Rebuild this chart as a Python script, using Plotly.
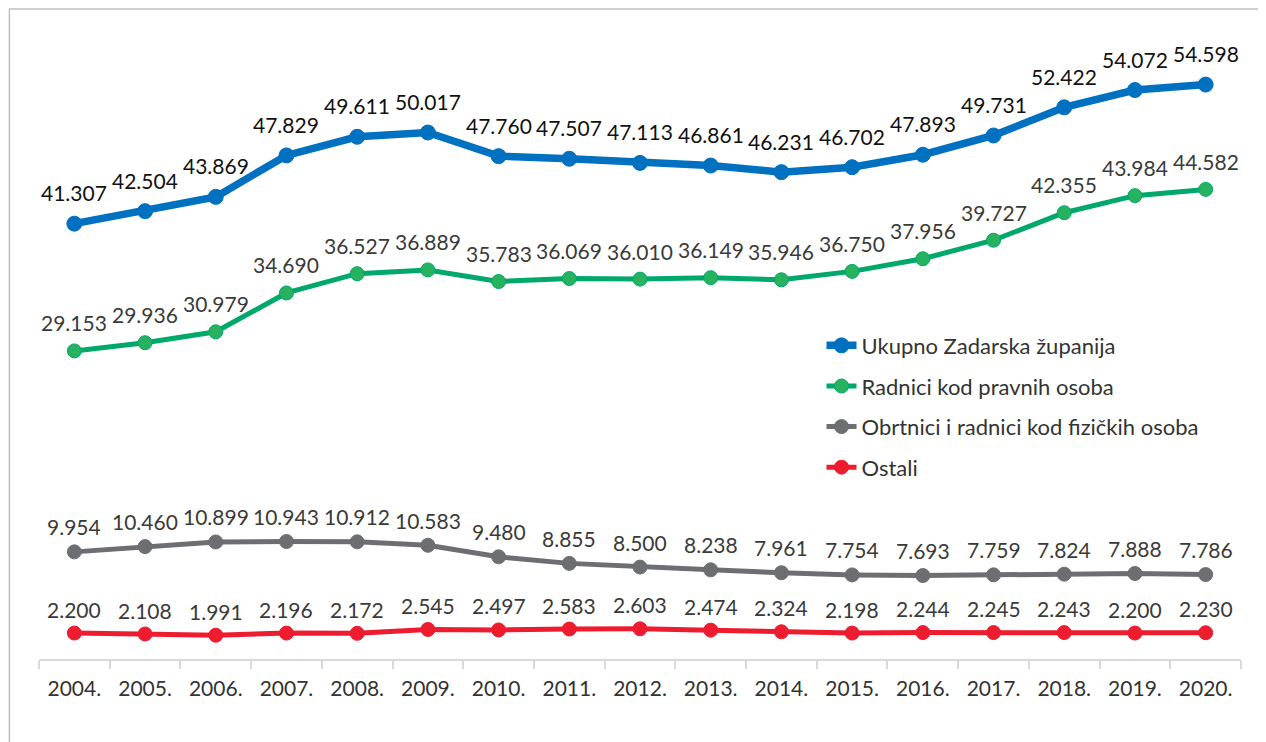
import plotly.graph_objects as go

years = ["2004.", "2005.", "2006.", "2007.", "2008.", "2009.", "2010.", "2011.", "2012.",
         "2013.", "2014.", "2015.", "2016.", "2017.", "2018.", "2019.", "2020."]
ukupno = [41.307, 42.504, 43.869, 47.829, 49.611, 50.017, 47.760, 47.507, 47.113,
          46.861, 46.231, 46.702, 47.893, 49.731, 52.422, 54.072, 54.598]
pravne = [29.153, 29.936, 30.979, 34.690, 36.527, 36.889, 35.783, 36.069, 36.010,
          36.149, 35.946, 36.750, 37.956, 39.727, 42.355, 43.984, 44.582]
fizicke = [9.954, 10.460, 10.899, 10.943, 10.912, 10.583, 9.480, 8.855, 8.500,
           8.238, 7.961, 7.754, 7.693, 7.759, 7.824, 7.888, 7.786]
ostali = [2.200, 2.108, 1.991, 2.196, 2.172, 2.545, 2.497, 2.583, 2.603,
          2.474, 2.324, 2.198, 2.244, 2.245, 2.243, 2.200, 2.230]

names = ["Ukupno Zadarska županija", "Radnici kod pravnih osoba",
         "Obrtnici i radnici kod fizičkih osoba", "Ostali"]

FONT = "Lato"

def fmt(v):
    return f"{v:.3f}"

series = [
    (ukupno, names[0], "#0070C0", "#0070C0", 7.5, 15, "#111111", 21, 31),
    (pravne, names[1], "#00A86B", "#27B25F", 5, 14, "#3a3a3a", 21, 28),
    (fizicke, names[2], "#6D6E71", "#6D6E71", 5, 14, "#3a3a3a", 21, 25),
    (ostali, names[3], "#ED1C2E", "#ED1C2E", 5, 14, "#3a3a3a", 21, 24),
]

fig = go.Figure()
annotations = []
for i, (vals, name, lc, mc, lw, ms, tc, fs, ys) in enumerate(series):
    fig.add_trace(go.Scatter(
        x=years, y=vals, name=name, mode="lines+markers",
        line=dict(color=lc, width=lw),
        marker=dict(color=mc, size=ms, line=dict(color=lc, width=1)),
        legendgroup=f"g{i}",
        hoverinfo="skip",
    ))
    for j, v in enumerate(vals):
        annotations.append(dict(
            x=j, y=v, text=fmt(v), showarrow=False, xref="x", yref="y",
            yshift=ys, font=dict(family=FONT, size=fs, color=tc),
        ))

fig.update_layout(
    width=1258, height=734,
    margin=dict(l=30.6, r=25.4, t=20, b=83),
    paper_bgcolor="white", plot_bgcolor="white",
    showlegend=True,
    legend=dict(
        x=0.651, y=0.53, xanchor="left", yanchor="top",
        font=dict(family=FONT, size=22, color="#333333"),
        tracegroupgap=9, bgcolor="rgba(0,0,0,0)",
    ),
    annotations=annotations,
    xaxis=dict(
        type="category", range=[-0.5, 16.5],
        showline=True, linecolor="#D9D9D9", linewidth=2,
        ticks="outside", tickson="boundaries", ticklen=8, tickcolor="#D9D9D9", tickwidth=2,
        showgrid=False, zeroline=False,
        tickfont=dict(family=FONT, size=21, color="#333333"),
        ticklabelstandoff=10,
    ),
    yaxis=dict(range=[-0.28, 60], visible=False, showgrid=False, zeroline=False),
    shapes=[dict(type="rect", xref="paper", yref="paper",
                 x0=-0.0246, x1=1.1, y0=-0.3, y1=1.030,
                 line=dict(color="#BFBFBF", width=1.5), fillcolor="rgba(0,0,0,0)",
                 layer="below")],
    font=dict(family=FONT),
)

fig.write_html("out.html")
